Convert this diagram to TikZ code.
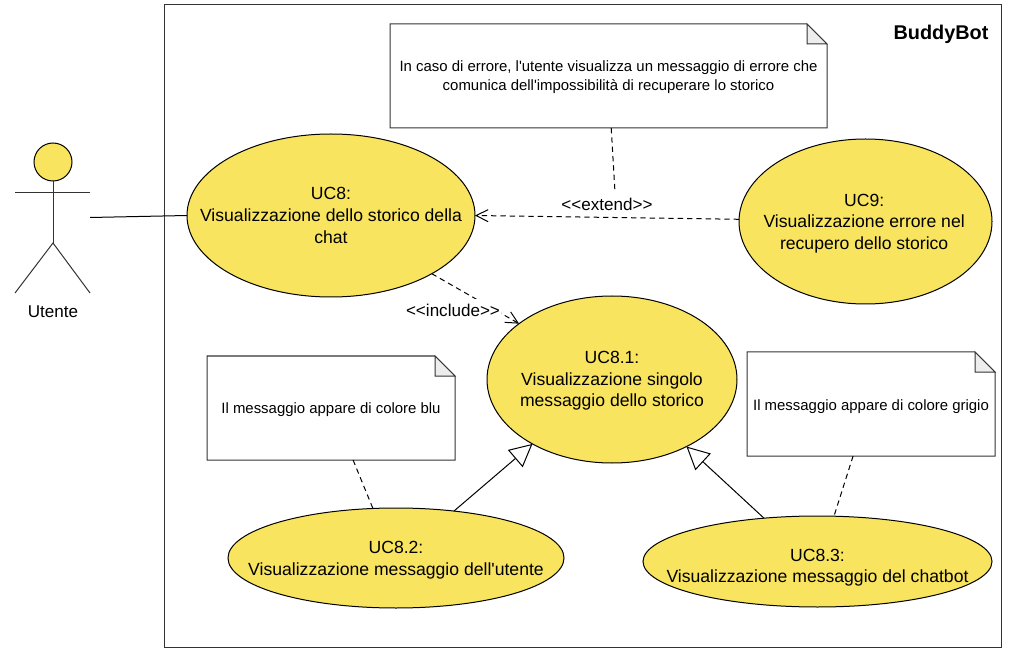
\documentclass[tikz,border=0pt]{standalone}
\usepackage{fontspec}
\setmainfont{Liberation Sans}
\usetikzlibrary{arrows.meta,shapes.geometric}
\definecolor{ucyellow}{HTML}{F8E45F}
\tikzset{
    boxsize/.style 2 args={minimum width=#1*0.75pt, minimum height=#2*0.75pt},
    usecase/.style={draw, ellipse, fill=ucyellow, inner sep=0pt, outer sep=0pt},
    note/.style={rectangle, inner sep=0pt, outer sep=0pt},
    notetext/.style={font=\fontsize{11.2}{14.5}\selectfont},
    every label/.style={align=center, font=\fontsize{13.2}{16.2}\selectfont},
    dep/.style={dashed, dash pattern=on 4pt off 3pt},
    openarrow/.style={-{Straight Barb[length=9pt,width=9pt]}},
    generalize/.style={-{Triangle[open,fill=white,length=17pt,width=17pt]}},
    tag/.style={fill=white, inner xsep=1pt, inner ysep=3.5pt, font=\fontsize{12.8}{14}\selectfont}
}
% la piega in alto a destra di una nota
\newcommand{\notefold}[1]{
    \draw[black!80] (#1.north west) -- ([xshift=-15pt]#1.north east) -- ([yshift=-15pt]#1.north east) -- (#1.south east) -- (#1.south west) -- cycle;
    \draw[black!80, fill=black!7] ([xshift=-15pt]#1.north east) -- ([xshift=-15pt,yshift=-15pt]#1.north east) -- ([yshift=-15pt]#1.north east) -- cycle;
}
\begin{document}
\begin{tikzpicture}[x=0.75pt, y=-0.75pt, line width=0.75pt]
    \useasboundingbox (0,0) rectangle (1014,652);
    %Sistema
    \node[draw, black!80, boxsize={837}{642}] (system) at (582.5,326) {};
    \node[font=\fontsize{14.9}{18}\selectfont\bfseries] (title) at (941,34) {BuddyBot};
    %Attore
    \node[draw, circle, fill=ucyellow, boxsize={38}{38}, inner sep=0pt] (head) at (53,162) {};
    \node[font=\fontsize{12.8}{14}\selectfont] (actorname) at (53,312) {Utente};
    \coordinate (hip) at (53,243);
    \coordinate (armL) at (15,193);
    \coordinate (armR) at (90,193);
    \coordinate (footL) at (15,293);
    \coordinate (footR) at (90,293);
    \coordinate (hand) at (90,217.5);
    \draw[black!80] (head.south) -- (hip);
    \draw[black!80] (armL) -- (armR);
    \draw[black!80] (footL) -- (hip) -- (footR);
    %Casi d'uso
    \node[usecase, boxsize={288}{163}, label={center:UC8:\\Visualizzazione dello storico della\\chat}] (uc8) at (331,215.5) {};
    \node[usecase, boxsize={253}{165}, label={[yshift=-1.5pt,xshift=-1pt]center:UC9:\\Visualizzazione errore nel\\recupero dello storico}] (uc9) at (865.5,221.5) {};
    \node[usecase, boxsize={250}{167}, label={[yshift=-1pt]center:UC8.1:\\Visualizzazione singolo\\messaggio dello storico}] (uc81) at (612,379.5) {};
    \node[usecase, boxsize={336}{100}, label={[yshift=-1.5pt]center:UC8.2:\\Visualizzazione messaggio dell\textquotesingle utente}] (uc82) at (396,558) {};
    \node[usecase, boxsize={349}{91}, label={[yshift=-4.5pt]center:UC8.3:\\Visualizzazione messaggio del chatbot}] (uc83) at (817.5,561.5) {};
    %Note
    \node[note, boxsize={437}{104}, label={[notetext,yshift=-1pt]center:In caso di errore, l\textquotesingle utente visualizza un messaggio di errore che\\comunica dell\textquotesingle impossibilità di recuperare lo storico}] (note1) at (608.5,76) {};
    \node[note, boxsize={248}{104}, label={[notetext,yshift=-1.5pt]center:Il messaggio appare di colore blu}] (note2) at (331,408) {};
    \node[note, boxsize={248}{104}, label={[notetext,yshift=-2pt]center:Il messaggio appare di colore grigio}] (note3) at (871,404) {};
    \notefold{note1}
    \notefold{note2}
    \notefold{note3}
    %Collegamenti
    \draw[dep, openarrow] (uc8.-30) -- (uc81.149.7);
    \node[tag] (extendtag) at (607,204) {<{}<extend>{}>};
    \node[tag] (includetag) at (453,310) {<{}<include>{}>};
    \draw (hand) -- (uc8.180.4);
    \draw[dep, openarrow] (uc9.179.3) -- (uc8.-0.6);
    \draw[dep] (note1.-87.2) -- (extendtag.55);
    \draw[generalize] (uc82.39.5) -- (uc81.219.7);
    \draw[generalize] (uc83.141.4) -- (uc81.-42.4);
    \draw[dep] (note2.-67) -- (uc82.115);
    \draw[dep] (note3.-109) -- (uc83.70);
\end{tikzpicture}
\end{document}
